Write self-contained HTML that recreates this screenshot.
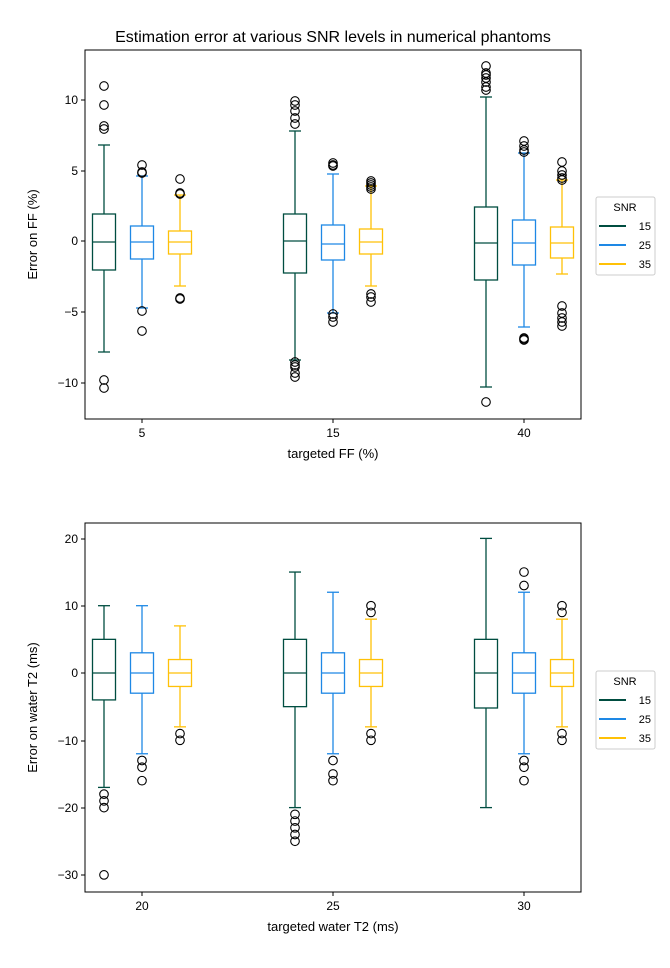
<!DOCTYPE html><html><head><style>body{margin:0;background:#fff}svg{font-family:"Liberation Sans","DejaVu Sans",sans-serif}</style></head><body>
<svg id="s" width="670" height="963" xmlns="http://www.w3.org/2000/svg">
<rect width="670" height="963" fill="#fff"/>
<text x="333" y="42" font-size="16" text-anchor="middle">Estimation error at various SNR levels in numerical phantoms</text>
<g id="g"></g>
</svg>
<script>
const C=["#004d40","#1e88e5","#ffc107"];
let h='';
function axes(top,bot,ticks,xl,yl,xticks,legY){
 h+=`<rect x="85" y="${top}" width="496" height="${bot-top}" fill="none" stroke="#000" stroke-width="1"/>`;
 ticks.forEach(([y,l])=>{h+=`<line x1="81" x2="85" y1="${y}" y2="${y}" stroke="#000"/><text x="78" y="${y+4}" font-size="12" text-anchor="end">${l}</text>`;});
 [142,333,524].forEach((x,i)=>{h+=`<line x1="${x}" x2="${x}" y1="${bot}" y2="${bot+4}" stroke="#000"/><text x="${x}" y="${bot+18}" font-size="12" text-anchor="middle">${xticks[i]}</text>`;});
 h+=`<text x="333" y="${bot+39}" font-size="13" text-anchor="middle">${xl}</text>`;
 const cy=(top+bot)/2;
 h+=`<text transform="translate(37,${cy}) rotate(-90)" font-size="13" text-anchor="middle">${yl}</text>`;
 h+=`<rect x="596" y="${legY}" width="59" height="78" fill="#fff" stroke="#ccc" rx="2"/><text x="625" y="${legY+14}" font-size="11" text-anchor="middle">SNR</text>`;
 ["15","25","35"].forEach((t,i)=>{const y=legY+29+i*19;h+=`<line x1="599" x2="626" y1="${y}" y2="${y}" stroke="${C[i]}" stroke-width="2"/><text x="651" y="${y+4}" font-size="11" text-anchor="end">${t}</text>`;});
}
function box(x,c,wt,q3,md,q1,wb,outs){
 h+=`<g stroke="${c}" fill="none" stroke-width="1.3"><line x1="${x}" x2="${x}" y1="${wt}" y2="${q3}"/><line x1="${x}" x2="${x}" y1="${q1}" y2="${wb}"/><line x1="${x-6}" x2="${x+6}" y1="${wt}" y2="${wt}"/><line x1="${x-6}" x2="${x+6}" y1="${wb}" y2="${wb}"/><rect x="${x-11.5}" y="${q3}" width="23" height="${q1-q3}"/><line x1="${x-11.5}" x2="${x+11.5}" y1="${md}" y2="${md}"/></g>`;
 outs.forEach(o=>{h+=`<circle cx="${x}" cy="${o}" r="4.3" fill="none" stroke="#000" stroke-width="1.1"/>`;});
}
axes(50,419,[[100,"10"],[171,"5"],[241,"0"],[312,"−5"],[383,"−10"]],"targeted FF (%)","Error on FF (%)",["5","15","40"],197);
const T=[
[104,145,214,242,270,352,[86,105,126,129,380,388]],
[142,176,226,242,259,308,[165,172,173,311,331]],
[180,195,231,242,254,286,[179,193,194,298,299]],
[295,131,214,241,273,360,[101,105,111,118,124,362,365,367,373,377]],
[333,174,225,244,260,313,[163,165,166,314,317,322]],
[371,186,229,242,254,286,[181,183,185,187,189,294,297,302]],
[486,97,207,243,280,387,[66,73,75,78,82,87,90,402]],
[524,153,220,243,265,327,[141,146,150,152,338,339,340]],
[562,180,227,243,258,274,[162,171,175,178,180,306,313,318,322,326]]];
T.forEach((b,i)=>box(b[0],C[i%3],b[1],b[2],b[3],b[4],b[5],b[6]));
axes(523,892,[[539,"20"],[606,"10"],[673,"0"],[741,"−10"],[808,"−20"],[875,"−30"]],"targeted water T2 (ms)","Error on water T2 (ms)",["20","25","30"],671);
const Y=v=>673-6.73*v;
const B=[
[104,10,5,0,-4,-17,[-18,-19,-20,-30]],
[142,10,3,0,-3,-12,[-13,-14,-16]],
[180,7,2,0,-2,-8,[-9,-10]],
[295,15,5,0,-5,-20,[-21,-22,-23,-24,-25]],
[333,12,3,0,-3,-12,[-13,-15,-16]],
[371,8,2,0,-2,-8,[9,10,-9,-10]],
[486,20,5,0,-5.2,-20,[]],
[524,12,3,0,-3,-12,[13,15,-13,-14,-16]],
[562,8,2,0,-2,-8,[9,10,-9,-10]]];
B.forEach((b,i)=>box(b[0],C[i%3],Y(b[1]),Y(b[2]),Y(b[3]),Y(b[4]),Y(b[5]),b[6].map(Y)));
document.getElementById('g').innerHTML=h;
</script>
</body></html>
